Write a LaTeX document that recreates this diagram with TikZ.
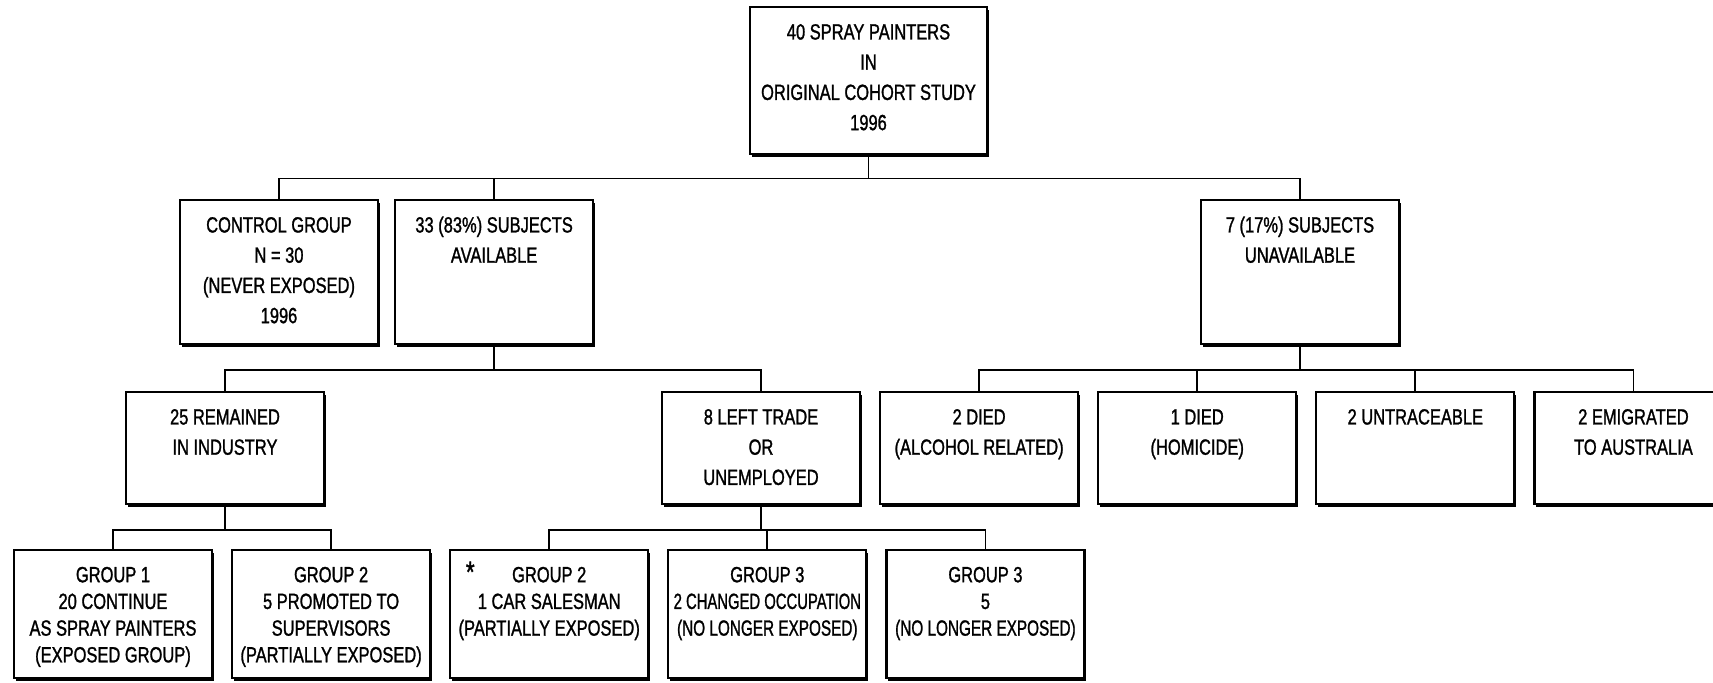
\documentclass[tikz,border=0pt]{standalone}
\usepackage{fontspec}
\setmainfont{Liberation Sans}[FakeStretch=0.75, FakeBold=1.2]
\usepackage{tikz}
\usetikzlibrary{positioning, shadows, calc}

\begin{document}
\begin{tikzpicture}[
        cellbox/.style n args={3}{
            rectangle,
            draw=black,
            fill=white,
            line width=1.2pt,
            inner xsep=0pt,
            inner ysep=6pt,
            drop shadow={shadow xshift=0.9pt, shadow yshift=-1.7pt, fill=black, opacity=1},
            execute at begin node={\begin{minipage}[t][#1][t]{#2}\centering\fontsize{12.5}{#3}\selectfont\rule{0pt}{12.5pt}},
            execute at end node={\end{minipage}}
        },
        rootbox/.style={cellbox={2.52cm}{4.74cm}{17.2pt}},
        groupbox/.style={cellbox={2.46cm}{3.96cm}{17.2pt}},
        fatebox/.style={cellbox={1.82cm}{3.96cm}{17.2pt}},
        leafbox/.style={cellbox={2.15cm}{3.96cm}{15.2pt}},
        link/.style={draw=black, line width=1pt}
    ]
        \useasboundingbox (0,0) rectangle (34.26,-13.64);

        \node[rootbox] (root) at (17.37, -1.61) {40 SPRAY PAINTERS\\ IN\\ ORIGINAL COHORT STUDY\\ 1996};

        \node[groupbox] (control) at (5.58, -5.44) {CONTROL GROUP\\ N = 30\\ (NEVER EXPOSED)\\ 1996};
        \node[groupbox, right=0.3cm of control] (avail) {33 (83\%) SUBJECTS\\ AVAILABLE};
        \node[groupbox] (unavail) at (26.0, -5.44) {7 (17\%) SUBJECTS\\ UNAVAILABLE};

        \node[fatebox] (remained) at (4.5, -8.96) {25 REMAINED\\ IN INDUSTRY};
        \node[fatebox] (lefttrade) at (15.22, -8.96) {8 LEFT TRADE\\ OR\\ UNEMPLOYED};
        \node[fatebox, right=0.36cm of lefttrade] (died2) {2 DIED\\ (ALCOHOL RELATED)};
        \node[fatebox, right=0.36cm of died2] (died1) {1 DIED\\ (HOMICIDE)};
        \node[fatebox, right=0.36cm of died1] (untrace) {2 UNTRACEABLE};
        \node[fatebox, right=0.36cm of untrace] (emig) {2 EMIGRATED\\ TO AUSTRALIA};

        \node[leafbox] (grp1) at (2.26, -12.28) {GROUP 1\\ 20 CONTINUE\\ AS SPRAY PAINTERS\\ (EXPOSED GROUP)};
        \node[leafbox, right=0.36cm of grp1] (grp2) {GROUP 2\\ 5 PROMOTED TO\\ SUPERVISORS\\ (PARTIALLY EXPOSED)};
        \node[leafbox, right=0.36cm of grp2] (grp2b) {\llap{{\fontsize{17}{17}\selectfont *}\hspace{0.75cm}}GROUP 2\\ 1 CAR SALESMAN\\ (PARTIALLY EXPOSED)};
        \node[leafbox, right=0.36cm of grp2b] (grp3a) {GROUP 3\\ \scalebox{0.9}[1]{2 CHANGED OCCUPATION}\\ \scalebox{0.93}[1]{(NO LONGER EXPOSED)}};
        \node[leafbox, right=0.36cm of grp3a] (grp3b) {GROUP 3\\ 5\\ \scalebox{0.93}[1]{(NO LONGER EXPOSED)}};

        \coordinate (rootbar) at ($(root.south)+(0,-0.47)$);
        \coordinate (availbar) at ($(avail.south)+(0,-0.5)$);
        \coordinate (unavailbar) at ($(unavail.south)+(0,-0.5)$);
        \coordinate (remainbar) at ($(remained.south)+(0,-0.5)$);
        \coordinate (leftbar) at ($(lefttrade.south)+(0,-0.5)$);

        \draw[link] (root.south) -- (rootbar);
        \draw[link] (control.north) |- (rootbar) -| (unavail.north);
        \draw[link] (avail.north) |- (rootbar);

        \draw[link] (avail.south) -- (availbar);
        \draw[link] (remained.north) |- (availbar) -| (lefttrade.north);

        \draw[link] (unavail.south) -- (unavailbar);
        \draw[link] (died2.north) |- (unavailbar) -| (emig.north);
        \draw[link] (died1.north) |- (unavailbar);
        \draw[link] (untrace.north) |- (unavailbar);

        \draw[link] (remained.south) -- (remainbar);
        \draw[link] (grp1.north) |- (remainbar) -| (grp2.north);

        \draw[link] (lefttrade.south) -- (leftbar);
        \draw[link] (grp2b.north) |- (leftbar) -| (grp3b.north);
        \draw[link] (grp3a.north) |- (leftbar);
    \end{tikzpicture}
\end{document}
